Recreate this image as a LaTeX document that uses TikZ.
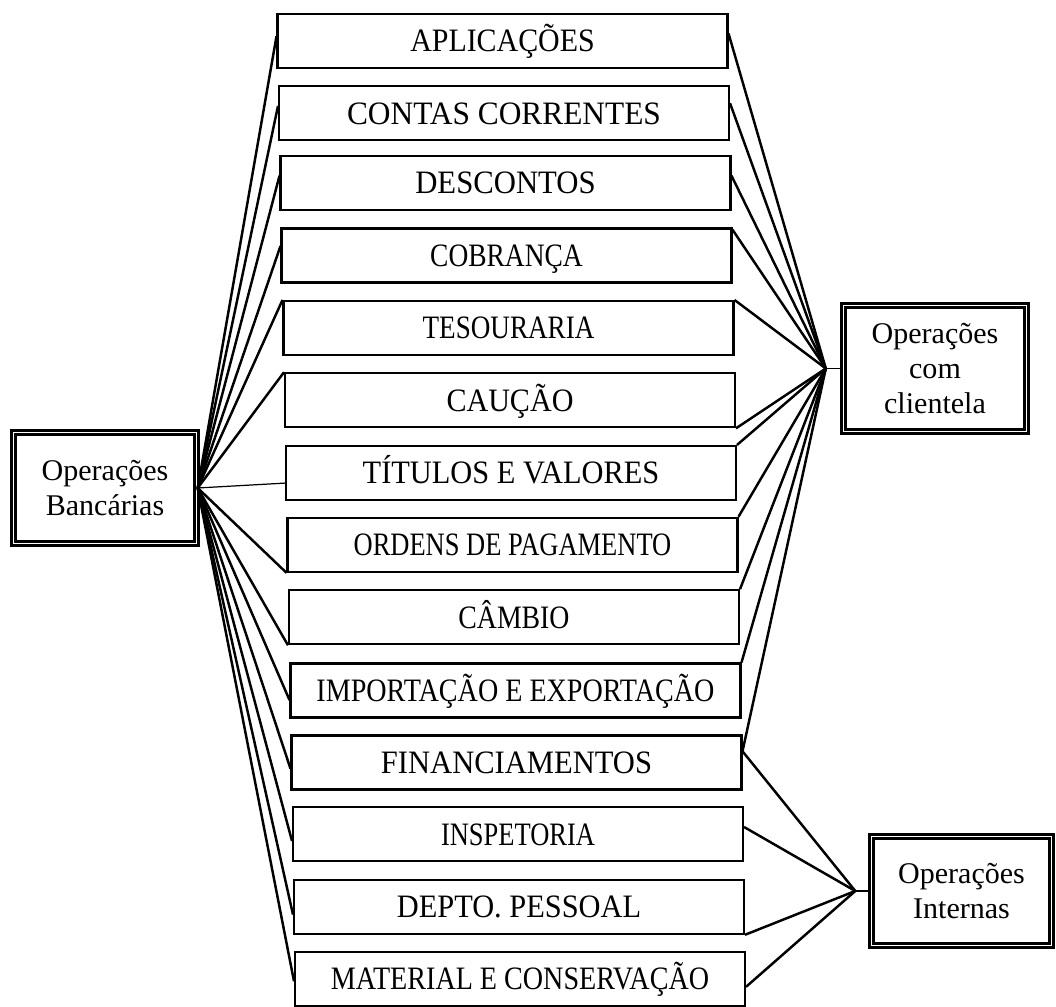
\documentclass[tikz,border=0pt]{standalone}
\usepackage{fontspec}
\usepackage{graphicx}
\setmainfont{Liberation Serif}
\usetikzlibrary{positioning}
\usetikzlibrary{calc}

% narrow the label horizontally, as in the typed original
\newcommand{\sx}[2]{\scalebox{#1}[1]{#2}}

\tikzset{
	opbox/.style = {draw = black, line width = 1.2pt, minimum width = 9cm, minimum height = 1.08cm, inner sep = 0pt, text height = 12.3pt, text depth = 0pt, font = \fontsize{18.6}{22}\selectfont},
	mainbox/.style = {draw = black, double, double distance = 1.1pt, line width = 1.4pt, align = center, inner sep = 0pt, font = \fontsize{17.1}{19.8}\selectfont},
	link/.style = {black, line width = 1.4pt},
	thinlink/.style = {black, line width = 0.7pt}
}

\begin{document}
\begin{tikzpicture}[x = 0.02cm, y = -0.02cm]
	\useasboundingbox (0, 0) rectangle (1056, 1007);
	\node[mainbox, minimum width = 3.66cm, minimum height = 2.22cm] (banc) at (105, 488) {Operações\\Bancárias};
	\node[mainbox, minimum width = 3.66cm, minimum height = 2.52cm] (cli) at (935, 368.5) {Operações\\com\\clientela};
	\node[mainbox, minimum width = 3.6cm, minimum height = 2.18cm] (int) at (961.5, 891) {Operações\\Internas};
	\node[opbox] (apl) at (502.5, 40.75) {\sx{0.915}{APLICAÇÕES}};
	\node[opbox] (contas) at (504, 113.25) {\sx{0.96}{CONTAS CORRENTES}};
	\node[opbox] (desc) at (505.5, 183) {\sx{0.94}{DESCONTOS}};
	\node[opbox] (cobr) at (506.5, 255.5) {\sx{0.84}{COBRANÇA}};
	\node[opbox] (tes) at (508.5, 328) {\sx{0.83}{TESOURARIA}};
	\node[opbox] (cauc) at (510, 400.25) {\sx{0.92}{CAUÇÃO}};
	\node[opbox] (tit) at (511, 473) {\sx{0.93}{TÍTULOS E VALORES}};
	\node[opbox] (ordens) at (512.5, 544.75) {\sx{0.81}{ORDENS DE PAGAMENTO}};
	\node[opbox] (camb) at (514, 617.25) {\sx{0.85}{CÂMBIO}};
	\node[opbox] (imp) at (515.5, 690.5) {\sx{0.86}{IMPORTAÇÃO E EXPORTAÇÃO}};
	\node[opbox] (fin) at (516.5, 762.5) {\sx{0.935}{FINANCIAMENTOS}};
	\node[opbox] (insp) at (518, 834.25) {\sx{0.81}{INSPETORIA}};
	\node[opbox] (depto) at (519, 906.75) {\sx{0.93}{DEPTO. PESSOAL}};
	\node[opbox] (mat) at (520, 979) {\sx{0.86}{MATERIAL E CONSERVAÇÃO}};
	\coordinate[left = 0.33cm of cli] (hubC);
	\coordinate[left = 0.3cm of int] (hubI);
	% fan out of Operacoes Bancarias
	\draw[link] (banc.east)--($(apl.north west)!0.42!(apl.south west)$);
	\draw[link] (banc.east)--($(contas.north west)!0.37!(contas.south west)$);
	\draw[link] (banc.east)--($(desc.north west)!0.37!(desc.south west)$);
	\draw[link] (banc.east)--($(cobr.north west)!0.33!(cobr.south west)$);
	\draw[link] (banc.east)--(tes.north west);
	\draw[link] (banc.east)--(cauc.north west);
	\draw[thinlink] (banc.east)--($(tit.north west)!0.68!(tit.south west)$);
	\draw[link] (banc.east)--(ordens.south west);
	\draw[link] (banc.east)--(camb.south west);
	\draw[link] (banc.east)--($(imp.north west)!0.67!(imp.south west)$);
	\draw[link] (banc.east)--($(fin.north west)!0.61!(fin.south west)$);
	\draw[link] (banc.east)--($(insp.north west)!0.62!(insp.south west)$);
	\draw[link] (banc.east)--($(depto.north west)!0.64!(depto.south west)$);
	\draw[link] (banc.east)--($(mat.north west)!0.54!(mat.south west)$);
	% clientela
	\draw[thinlink] (hubC)--(cli);
	\draw[link] (hubC)--($(apl.north east)!0.37!(apl.south east)$);
	\draw[link] (hubC)--($(contas.north east)!0.32!(contas.south east)$);
	\draw[link] (hubC)--($(desc.north east)!0.37!(desc.south east)$);
	\draw[link] (hubC)--($(cobr.north east)!0.04!(cobr.south east)$);
	\draw[link] (hubC)--(tes.north east);
	\draw[link] (hubC)--(cauc.south east);
	\draw[link] (hubC)--(tit.north east);
	\draw[link] (hubC)--(ordens.north east);
	\draw[link] (hubC)--(camb.north east);
	\draw[link] (hubC)--(imp.north east);
	\draw[link] (hubC)--($(fin.north east)!0.3!(fin.south east)$);
	% internas
	\draw[thinlink] (hubI)--(int);
	\draw[link] (hubI)--($(fin.north east)!0.3!(fin.south east)$);
	\draw[link] (hubI)--($(insp.north east)!0.37!(insp.south east)$);
	\draw[link] (hubI)--(depto.south east);
	\draw[link] (hubI)--($(mat.north east)!0.64!(mat.south east)$);
\end{tikzpicture}
\end{document}
